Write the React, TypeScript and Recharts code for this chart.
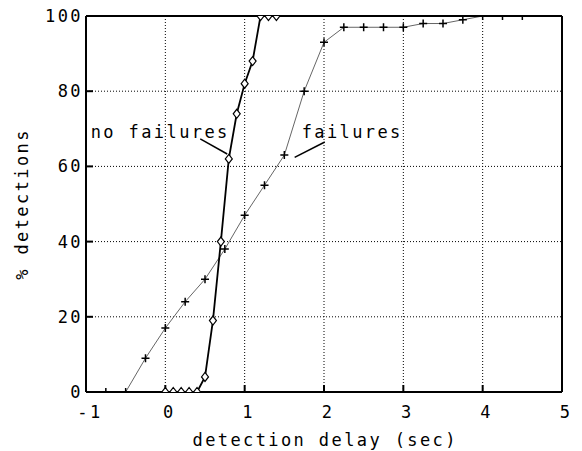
import { LineChart, Line, XAxis, YAxis, CartesianGrid, ReferenceDot, ReferenceLine } from 'recharts';

// detection delay (sec) vs cumulative % detections
const noFailDelay = [0, 0.1, 0.2, 0.3, 0.4, 0.5, 0.6, 0.7, 0.8, 0.9, 1.0, 1.1, 1.2, 1.3, 1.4];
const noFailPct   = [0, 0,   0,   0,   0,   4,   19,  40,  62,  74,  82,  88,  100, 100, 100];

const failDelay = [-0.75, -0.5, -0.25, 0, 0.25, 0.5, 0.75, 1.0, 1.25, 1.5, 1.75, 2.0, 2.25, 2.5, 2.75, 3.0, 3.25, 3.5, 3.75, 4.0, 4.25, 4.5];
const failPct   = [0,     0,    9,     17, 24,  30,  38,   47,  55,   63,  80,   93,  97,   97,  97,   97,  98,   98,  99,   100, 100,  100];

const xTicks = [-1, 0, 1, 2, 3, 4, 5];
const yTicks = [0, 20, 40, 60, 80, 100];

const noFailData = noFailDelay.map((x, i) => ({ x, y: noFailPct[i] }));
const failData = failDelay.map((x, i) => ({ x, y: failPct[i] }));

const font = '"DejaVu Sans Mono", monospace';
const fs = 17;
const tickStyle = { fill: '#000', fontSize: fs, fontFamily: font };

const Cross = (props: any) => {
  const { cx, cy, index } = props;
  return (
    <path
      key={`f${index}`}
      d={`M${cx - 4},${cy}H${cx + 4}M${cx},${cy - 4}V${cy + 4}`}
      stroke="#000"
      strokeWidth={1.5}
      fill="none"
    />
  );
};

const Diamond = (props: any) => {
  const { cx, cy, index } = props;
  return (
    <path
      key={`n${index}`}
      d={`M${cx},${cy - 4.5}L${cx + 3.5},${cy}L${cx},${cy + 4.5}L${cx - 3.5},${cy}Z`}
      stroke="#000"
      strokeWidth={1.2}
      fill="#fff"
    />
  );
};

const noteLabel = (text: string) => (props: any) => {
  const { viewBox } = props;
  return (
    <text
      x={viewBox.x + 1.2}
      y={viewBox.y}
      textAnchor="middle"
      dominantBaseline="central"
      fontFamily={font}
      fontSize={fs}
      fill="#000"
    >
      {text}
    </text>
  );
};

export default function App() {
  return (
    <div style={{ width: 582, height: 451, background: '#fff', letterSpacing: '2.4px', fontFamily: font, position: 'absolute', left: 0, top: 0 }}>
      <LineChart width={582} height={451} margin={{ top: 0, right: 0, bottom: 0, left: 0 }}>
        <CartesianGrid stroke="#000" strokeDasharray="1 2" strokeWidth={1} />
        <XAxis
          type="number"
          dataKey="x"
          domain={[-1, 5]}
          ticks={xTicks}
          allowDataOverflow
          height={59}
          axisLine={{ stroke: '#000', strokeWidth: 2 }}
          tickLine={{ stroke: '#000', strokeWidth: 2 }}
          tickSize={-7}
          tickMargin={21}
          tick={{ ...tickStyle, dx: 4 }}
          interval={0}
          label={{
            content: (p: any) => (
              <text x={p.viewBox.x + p.viewBox.width / 2 + 1.2} y={446} textAnchor="middle" fontFamily={font} fontSize={fs} fill="#000">
                detection delay (sec)
              </text>
            ),
          }}
        />
        <XAxis
          xAxisId="top"
          orientation="top"
          type="number"
          domain={[-1, 5]}
          ticks={xTicks}
          allowDataOverflow
          height={16}
          axisLine={{ stroke: '#000', strokeWidth: 2 }}
          tickLine={{ stroke: '#000', strokeWidth: 2 }}
          tickSize={-7}
          tick={false}
        />
        <YAxis
          type="number"
          domain={[0, 100]}
          ticks={yTicks}
          allowDataOverflow
          width={86}
          axisLine={{ stroke: '#000', strokeWidth: 2 }}
          tickLine={{ stroke: '#000', strokeWidth: 2 }}
          tickSize={-7}
          tickMargin={10}
          tick={tickStyle}
          interval={0}
          label={{
            content: (p: any) => {
              const cy = p.viewBox.y + p.viewBox.height / 2;
              return (
                <text x={22} y={cy} transform={`rotate(-90 22 ${cy})`} textAnchor="middle" dominantBaseline="central" fontFamily={font} fontSize={fs} fill="#000">
                  % detections
                </text>
              );
            },
          }}
        />
        <YAxis
          yAxisId="right"
          orientation="right"
          type="number"
          domain={[0, 100]}
          ticks={yTicks}
          allowDataOverflow
          width={20}
          axisLine={{ stroke: '#000', strokeWidth: 2 }}
          tickLine={{ stroke: '#000', strokeWidth: 2 }}
          tickSize={-7}
          tick={false}
        />
        <Line
          data={failData}
          dataKey="y"
          type="linear"
          stroke="#666"
          strokeWidth={1}
          dot={Cross}
          activeDot={false}
          isAnimationActive={false}
        />
        <Line
          data={noFailData}
          dataKey="y"
          type="linear"
          stroke="#000"
          strokeWidth={1.8}
          dot={Diamond}
          activeDot={false}
          isAnimationActive={false}
        />
        <ReferenceLine segment={[{ x: 0.44, y: 67.3 }, { x: 0.78, y: 63.3 }]} stroke="#000" strokeWidth={1.5} />
        <ReferenceLine segment={[{ x: 2.01, y: 66.5 }, { x: 1.63, y: 62.4 }]} stroke="#000" strokeWidth={1.5} />
        <ReferenceDot x={-0.08} y={69.2} r={0} stroke="none" fill="none" label={{ content: noteLabel('no failures') }} />
        <ReferenceDot x={2.34} y={69.2} r={0} stroke="none" fill="none" label={{ content: noteLabel('failures') }} />
      </LineChart>
    </div>
  );
}
